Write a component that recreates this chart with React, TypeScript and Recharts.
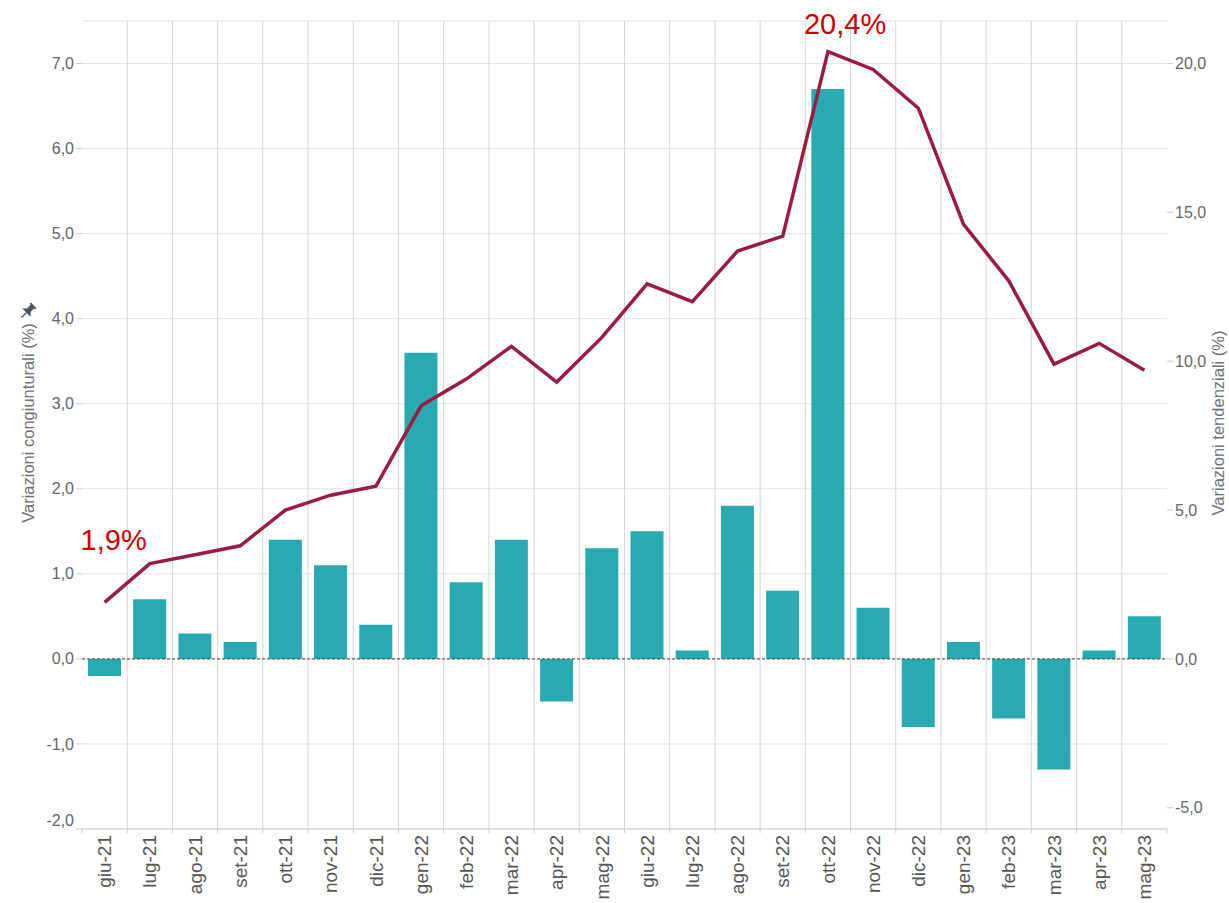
import React from 'react';
import { ComposedChart, Bar, Line, XAxis, YAxis, CartesianGrid, ReferenceLine, LabelList, Label } from 'recharts';

const months = [
  'giu-21', 'lug-21', 'ago-21', 'set-21', 'ott-21', 'nov-21', 'dic-21', 'gen-22',
  'feb-22', 'mar-22', 'apr-22', 'mag-22', 'giu-22', 'lug-22', 'ago-22', 'set-22',
  'ott-22', 'nov-22', 'dic-22', 'gen-23', 'feb-23', 'mar-23', 'apr-23', 'mag-23',
];

// monthly change (%), left axis
const congiunturali = [
  -0.2, 0.7, 0.3, 0.2, 1.4, 1.1, 0.4, 3.6,
  0.9, 1.4, -0.5, 1.3, 1.5, 0.1, 1.8, 0.8,
  6.7, 0.6, -0.8, 0.2, -0.7, -1.3, 0.1, 0.5,
];

// year-on-year change (%), right axis
const tendenziali = [
  1.9, 3.2, 3.5, 3.8, 5.0, 5.5, 5.8, 8.5,
  9.4, 10.5, 9.3, 10.8, 12.6, 12.0, 13.7, 14.2,
  20.4, 19.8, 18.5, 14.6, 12.7, 9.9, 10.6, 9.7,
];

const leftTicks = [-2, -1, 0, 1, 2, 3, 4, 5, 6, 7];
const rightTicks = [-5, 0, 5, 10, 15, 20];
const annotatedMonths = ['giu-21', 'ott-22'];

const data = months.map((m, i) => ({ month: m, cong: congiunturali[i], tend: tendenziali[i] }));

const fmt = (v: number) => v.toFixed(1).replace('.', ',');

// label placement relative to the line point
const annotationOffset: Record<string, { dx: number; dy: number }> = {
  'giu-21': { dx: -24, dy: -52 },
  'ott-22': { dx: -24, dy: -18 },
};

const MonthTick = (props: any) => {
  const { x, y, payload, index, visibleTicksCount } = props;
  const half = payload && typeof payload.offset === 'number' ? payload.offset : 0;
  const isLast = visibleTicksCount != null && index === visibleTicksCount - 1;
  return (
    <g>
      {half > 0 && <line x1={x - half} x2={x - half} y1={y - 6} y2={y - 2} stroke="#ccc" />}
      {half > 0 && isLast && <line x1={x + half} x2={x + half} y1={y - 6} y2={y - 2} stroke="#ccc" />}
      <text
        transform={`translate(${x},${y}) rotate(-90)`}
        textAnchor="end"
        dy="0.35em"
        fontSize={19}
        fill="#555"
      >
        {payload.value}
      </text>
    </g>
  );
};

// left ticks; the lowest label sits a bit higher, like the original
const LeftTick = (props: any) => {
  const { x, y, payload } = props;
  const lift = payload.value === leftTicks[0] ? -9 : 0;
  return (
    <text x={x} y={y + lift} dy="0.35em" textAnchor="end" fontSize={16} fill="#666">
      {fmt(payload.value)}
    </text>
  );
};

const LeftTitle = (props: any) => {
  const { viewBox } = props;
  const x = viewBox.x + 34;
  const y = viewBox.y + viewBox.height / 2 - 2;
  return (
    <g>
      <text transform={`translate(${x},${y}) rotate(-90)`} textAnchor="middle" fontSize={16.5} fill="#707070">
        Variazioni congiunturali (%)
      </text>
      <g transform={`translate(${x - 6},${y - 112}) rotate(45) scale(1.15)`} fill="#4a5466">
        <path d="M-3.5,-7 L3.5,-7 L3.5,-5.5 L2.2,-5.5 L2.2,-1 L5,2 L-5,2 L-2.2,-1 L-2.2,-5.5 L-3.5,-5.5 Z" />
        <rect x={-0.6} y={2} width={1.2} height={6} />
      </g>
    </g>
  );
};

const RightTitle = (props: any) => {
  const { viewBox } = props;
  const x = viewBox.x + 57;
  const y = viewBox.y + viewBox.height / 2 - 2;
  return (
    <text transform={`translate(${x},${y}) rotate(-90)`} textAnchor="middle" fontSize={16.5} fill="#707070">
      Variazioni tendenziali (%)
    </text>
  );
};

const Annotation = (props: any) => {
  const { x, y, value, index } = props;
  const key = months[index];
  if (!annotatedMonths.includes(key)) return null;
  const off = annotationOffset[key];
  return (
    <text x={x + off.dx} y={y + off.dy} fontSize={29} fill="#cc0000" textAnchor="start">
      {fmt(value)}%
    </text>
  );
};

const App: React.FC = () => {
  return (
    <div
      style={{
        position: 'absolute',
        left: 0,
        top: 0,
        width: 1229,
        height: 903,
        background: '#fff',
        fontFamily: '"Liberation Sans", Arial, sans-serif',
      }}
    >
      <ComposedChart width={1229} height={903} data={data} margin={{ top: 21, right: 0, bottom: 0, left: 0 }}>
        <CartesianGrid yAxisId="left" vertical={false} stroke="#e4e4e4" />
        <CartesianGrid
          yAxisId="left"
          horizontal={false}
          stroke="#d6d6d6"
          verticalCoordinatesGenerator={({ offset }: any) =>
            months.slice(1).map((_, i) => offset.left + ((i + 1) * offset.width) / months.length)
          }
        />
        <XAxis
          dataKey="month"
          interval={0}
          height={74}
          axisLine={{ stroke: '#ccc' }}
          tickLine={false}
          tickMargin={0}
          tick={<MonthTick />}
        />
        <YAxis
          yAxisId="left"
          width={82}
          domain={[-2, 7.5]}
          ticks={leftTicks}
          interval={0}
          axisLine={false}
          tickLine={{ stroke: '#ccc' }}
          tick={<LeftTick />}
          label={<Label content={LeftTitle} />}
        />
        <YAxis
          yAxisId="right"
          orientation="right"
          width={62}
          domain={[-40 / 7, 150 / 7]}
          ticks={rightTicks}
          interval={0}
          tickFormatter={fmt}
          axisLine={false}
          tickLine={{ stroke: '#ccc' }}
          tick={{ fontSize: 16, fill: '#666' }}
          label={<Label content={RightTitle} />}
        />
        <Bar yAxisId="left" dataKey="cong" fill="#29aab0" barSize={33} isAnimationActive={false} />
        <ReferenceLine yAxisId="left" y={0} stroke="#444" strokeDasharray="3 2" />
        <Line
          yAxisId="right"
          type="linear"
          dataKey="tend"
          stroke="#9b1b41"
          strokeWidth={3.5}
          dot={false}
          activeDot={false}
          isAnimationActive={false}
        >
          <LabelList dataKey="tend" content={<Annotation />} />
        </Line>
      </ComposedChart>
    </div>
  );
};

export default App;
